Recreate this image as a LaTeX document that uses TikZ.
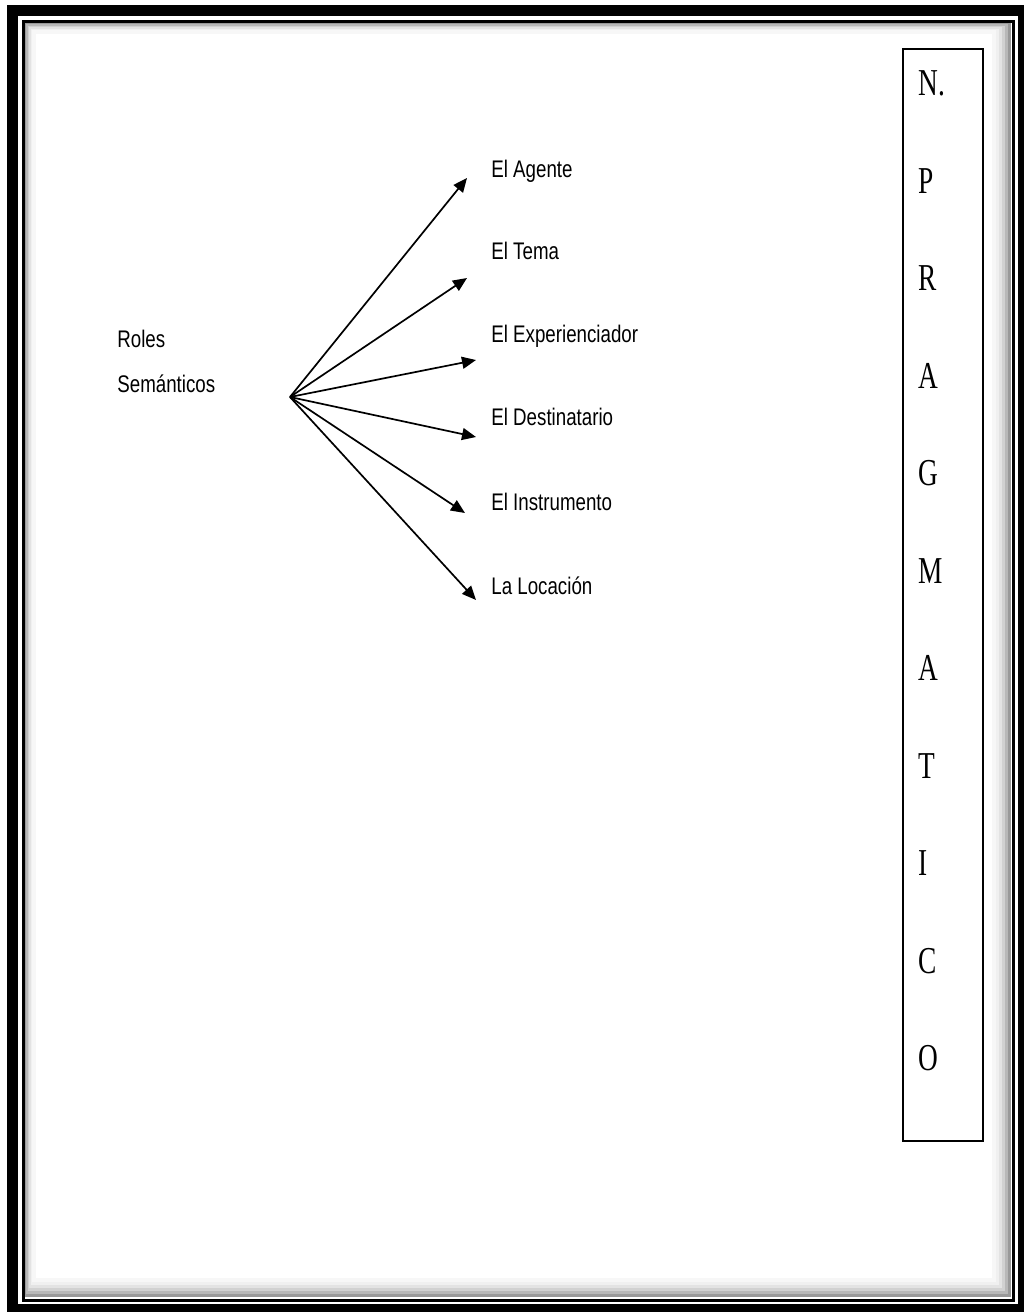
\documentclass[tikz,border=0pt]{standalone}
\usepackage{fontspec}
\setmainfont{Liberation Sans}
\newfontfamily\letraserif{Liberation Serif}
\usepackage{graphicx}
\usetikzlibrary{arrows.meta}
\newcommand{\estrecho}[2][0.78]{\scalebox{#1}[1]{#2}}

\begin{document}
\begin{tikzpicture}[x=0.5pt,y=-0.5pt,
  rol/.style={anchor=base west, inner sep=0pt, font=\fontsize{12}{14}\selectfont},
  letra/.style={anchor=base west, inner sep=0pt, font=\letraserif\fontsize{19}{22}\selectfont},
  flecha/.style={line width=0.85pt, -{Triangle[length=7pt,width=6pt]}}]
\useasboundingbox (0,0) rectangle (1024,1312);
% marco
\fill[black] (7,5) rectangle (1024,1312);
\fill[white] (18,16) rectangle (1018,1304);
\draw[black!40, line width=1.6pt] (26.5,24.5) rectangle (1009,1295);
\draw[black!28, line width=1.6pt] (28,26) rectangle (1006,1292);
\draw[black!18, line width=1.6pt] (29.5,27.5) rectangle (1003,1289);
\draw[black!11, line width=1.6pt] (31,29) rectangle (1000,1286);
\draw[black!6, line width=1.6pt] (32.5,30.5) rectangle (997,1283);
\draw[black!3, line width=1.6pt] (34,32) rectangle (994,1280);
\draw[line width=1.5pt] (23.5,21.5) rectangle (1013.5,1300);
%
\node (roles) [rol] at (117,347) {\estrecho{Roles}};
\node (semanticos) [rol] at (117,392) {\estrecho{Semánticos}};
\coordinate (centro) at (290,397);
%
\node (agente) [rol] at (491,177) {\estrecho{El Agente}};
\node (tema) [rol] at (491,259) {\estrecho{El Tema}};
\node (experienciador) [rol] at (491,342) {\estrecho{El Experienciador}};
\node (destinatario) [rol] at (491,425) {\estrecho{El Destinatario}};
\node (instrumento) [rol] at (491,510) {\estrecho{El Instrumento}};
\node (locacion) [rol] at (491,594) {\estrecho{La Locación}};
\coordinate (p-agente) at (467,178);
\coordinate (p-tema) at (467,278);
\coordinate (p-experienciador) at (476,360);
\coordinate (p-destinatario) at (476,437);
\coordinate (p-instrumento) at (465,513);
\coordinate (p-locacion) at (476,600);
\draw[flecha] (centro) -- (p-agente);
\draw[flecha] (centro) -- (p-tema);
\draw[flecha] (centro) -- (p-experienciador);
\draw[flecha] (centro) -- (p-destinatario);
\draw[flecha] (centro) -- (p-instrumento);
\draw[flecha] (centro) -- (p-locacion);
%
\draw[line width=1pt] (903,49) rectangle (983,1141);
\node (n) [letra] at (918,95.5) {\estrecho[0.72]{N.}};
\node (p) [letra] at (918,193) {\estrecho[0.72]{P}};
\node (r) [letra] at (918,290.5) {\estrecho[0.72]{R}};
\node (a1) [letra] at (918,388) {\estrecho[0.72]{A}};
\node (g) [letra] at (918,485.5) {\estrecho[0.72]{G}};
\node (m) [letra] at (918,583) {\estrecho[0.72]{M}};
\node (a2) [letra] at (918,680.5) {\estrecho[0.72]{A}};
\node (t) [letra] at (918,778) {\estrecho[0.72]{T}};
\node (i) [letra] at (918,875.5) {\estrecho[0.72]{I}};
\node (c) [letra] at (918,973) {\estrecho[0.72]{C}};
\node (o) [letra] at (918,1070.5) {\estrecho[0.72]{O}};
\end{tikzpicture}
\end{document}
